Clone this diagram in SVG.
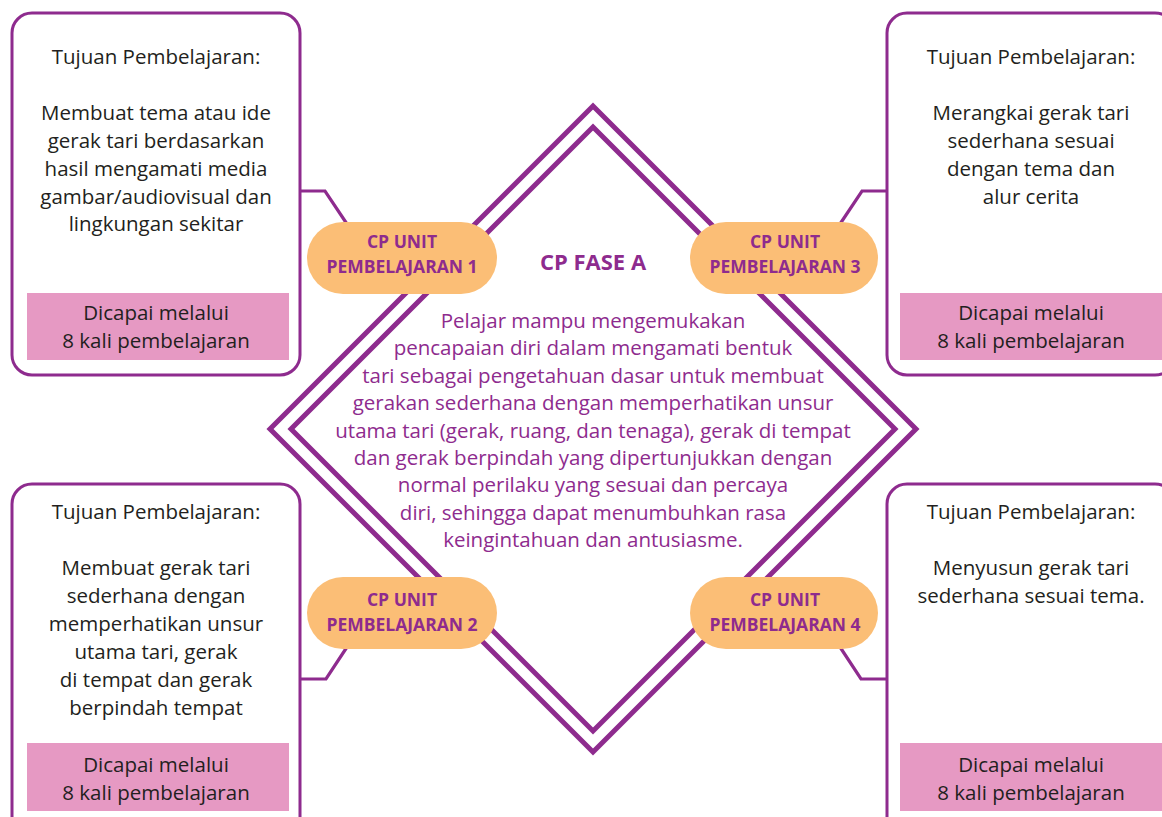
<svg xmlns="http://www.w3.org/2000/svg" width="1162" height="817" viewBox="0 0 1162 817">
<style>
.box{fill:#fff;stroke:#8E2B8E;stroke-width:3}
.bar{fill:#E699C3}
.pill{fill:#FBBE76}
.dia{fill:none;stroke:#8E2B8E;stroke-width:5;stroke-linejoin:miter}
.con{fill:none;stroke:#8E2B8E;stroke-width:3.2;stroke-linejoin:miter}
.t{font-family:"Open Sans","Noto Sans",sans-serif;font-size:20.5px;fill:#231F20;text-anchor:middle}
.p{font-family:"Open Sans","Noto Sans",sans-serif;font-size:20.5px;fill:#8E2B8E;text-anchor:middle}
.pl{font-family:"Open Sans","Noto Sans",sans-serif;font-size:17.5px;font-weight:700;fill:#8E2B8E;text-anchor:middle}
.h{font-family:"Open Sans","Noto Sans",sans-serif;font-size:22px;font-weight:700;fill:#8E2B8E;text-anchor:middle}
</style>
<rect width="1162" height="817" fill="#fff"/>
<g id="diamond">
<path class="dia" d="M593,106 L916,429 L593,752 L270,429 Z"/>
<path class="dia" d="M593,127 L895,429 L593,731 L291,429 Z"/>
<text class="h" x="593" y="270">CP FASE A</text>
<text class="p" x="593" y="328">Pelajar mampu mengemukakan</text>
<text class="p" x="593" y="355.4">pencapaian diri dalam mengamati bentuk</text>
<text class="p" x="593" y="382.8">tari sebagai pengetahuan dasar untuk membuat</text>
<text class="p" x="593" y="410.2">gerakan sederhana dengan memperhatikan unsur</text>
<text class="p" x="593" y="437.6">utama tari (gerak, ruang, dan tenaga), gerak di tempat</text>
<text class="p" x="593" y="465">dan gerak berpindah yang dipertunjukkan dengan</text>
<text class="p" x="593" y="492.4">normal perilaku yang sesuai dan percaya</text>
<text class="p" x="593" y="519.8">diri, sehingga dapat menumbuhkan rasa</text>
<text class="p" x="593" y="547.2">keingintahuan dan antusiasme.</text>
</g>
<g id="connectors">
<path class="con" d="M300,191 L325,191 L347,224"/>
<path class="con" d="M887,191 L862,191 L840,224"/>
<path class="con" d="M300,679 L326,679 L347,647"/>
<path class="con" d="M887,679 L861,679 L840,647"/>
</g>
<g id="pill1">
<rect class="pill" x="307" y="222" width="190" height="72" rx="36"/>
<text class="pl" x="402" y="248">CP UNIT</text>
<text class="pl" x="402" y="273">PEMBELAJARAN 1</text>
</g>
<g id="pill3">
<rect class="pill" x="690" y="222" width="188" height="72" rx="36"/>
<text class="pl" x="785" y="248">CP UNIT</text>
<text class="pl" x="785" y="273">PEMBELAJARAN 3</text>
</g>
<g id="pill2">
<rect class="pill" x="307" y="577" width="190" height="72" rx="36"/>
<text class="pl" x="402" y="606">CP UNIT</text>
<text class="pl" x="402" y="631">PEMBELAJARAN 2</text>
</g>
<g id="pill4">
<rect class="pill" x="690" y="577" width="188" height="72" rx="36"/>
<text class="pl" x="785" y="606">CP UNIT</text>
<text class="pl" x="785" y="631">PEMBELAJARAN 4</text>
</g>
<g id="box1">
<rect class="box" x="12" y="13" width="288" height="362" rx="20"/>
<rect class="bar" x="27" y="293" width="262" height="67"/>
<text class="t" x="156" y="64">Tujuan Pembelajaran:</text>
<text class="t" x="156" y="120">Membuat tema atau ide</text>
<text class="t" x="156" y="148">gerak tari berdasarkan</text>
<text class="t" x="156" y="176">hasil mengamati media</text>
<text class="t" x="156" y="204">gambar/audiovisual dan</text>
<text class="t" x="156" y="231">lingkungan sekitar</text>
<text class="t" x="156" y="320">Dicapai melalui</text>
<text class="t" x="156" y="348">8 kali pembelajaran</text>
</g>
<g id="box3">
<rect class="box" x="887" y="13" width="288" height="362" rx="20"/>
<rect class="bar" x="900" y="293" width="262" height="67"/>
<text class="t" x="1031" y="64">Tujuan Pembelajaran:</text>
<text class="t" x="1031" y="120">Merangkai gerak tari</text>
<text class="t" x="1031" y="148">sederhana sesuai</text>
<text class="t" x="1031" y="176">dengan tema dan</text>
<text class="t" x="1031" y="204">alur cerita</text>
<text class="t" x="1031" y="320">Dicapai melalui</text>
<text class="t" x="1031" y="348">8 kali pembelajaran</text>
</g>
<g id="box2">
<rect class="box" x="12" y="484" width="288" height="362" rx="20"/>
<rect class="bar" x="27" y="743" width="262" height="68"/>
<text class="t" x="156" y="519">Tujuan Pembelajaran:</text>
<text class="t" x="156" y="575">Membuat gerak tari</text>
<text class="t" x="156" y="603">sederhana dengan</text>
<text class="t" x="156" y="631">memperhatikan unsur</text>
<text class="t" x="156" y="659">utama tari, gerak</text>
<text class="t" x="156" y="687">di tempat dan gerak</text>
<text class="t" x="156" y="715">berpindah tempat</text>
<text class="t" x="156" y="772">Dicapai melalui</text>
<text class="t" x="156" y="800">8 kali pembelajaran</text>
</g>
<g id="box4">
<rect class="box" x="887" y="484" width="288" height="362" rx="20"/>
<rect class="bar" x="900" y="743" width="262" height="68"/>
<text class="t" x="1031" y="519">Tujuan Pembelajaran:</text>
<text class="t" x="1031" y="575">Menyusun gerak tari</text>
<text class="t" x="1031" y="603">sederhana sesuai tema.</text>
<text class="t" x="1031" y="772">Dicapai melalui</text>
<text class="t" x="1031" y="800">8 kali pembelajaran</text>
</g>
</svg>
